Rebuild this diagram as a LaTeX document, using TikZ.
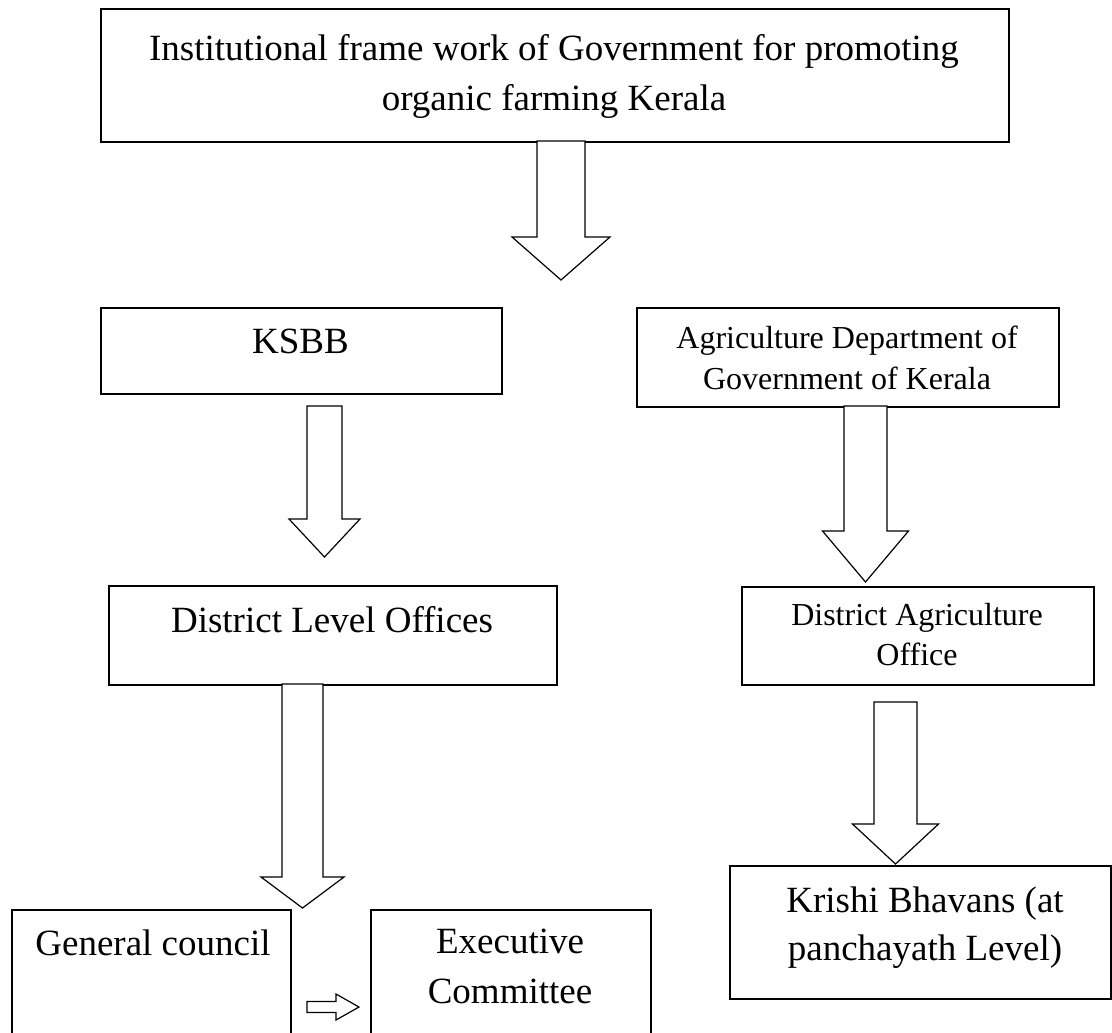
\documentclass[tikz,border=0pt]{standalone}
\usepackage{fontspec}
\setmainfont{Liberation Serif}
\begin{document}
\begin{tikzpicture}[x=0.75pt,y=-0.75pt,
  boxnode/.style={draw=black,line width=1.2pt,rectangle,inner sep=0pt,anchor=north west},
  bigtxt/.style={inner sep=0pt,anchor=base,font=\fontsize{27.75}{32}\selectfont},
  smalltxt/.style={inner sep=0pt,anchor=base,font=\fontsize{24}{28}\selectfont},
  blockarrow/.style={draw=black,line width=0.9pt,fill=white,line join=miter}]
\useasboundingbox (0,0) rectangle (1112,1032);
\newcommand\blockdown[6]{% cx, shaft half, ytop, ybase, head half, ytip
  \draw[blockarrow] ({#1-#2},#3) -- ({#1-#2},#4) -- ({#1-#5},#4) -- (#1,#6)
    -- ({#1+#5},#4) -- ({#1+#2},#4) -- ({#1+#2},#3) -- cycle;}
% boxes
\node[boxnode,minimum width=908*0.75pt,minimum height=133*0.75pt] (top) at (100,8) {};
\node[boxnode,minimum width=401*0.75pt,minimum height=86*0.75pt] (ksbb) at (100,307) {};
\node[boxnode,minimum width=448*0.75pt,minimum height=99*0.75pt] (dlo) at (108,585) {};
\node[boxnode,minimum width=422*0.75pt,minimum height=99*0.75pt] (agri) at (636,307) {};
\node[boxnode,minimum width=352*0.75pt,minimum height=98*0.75pt] (dao) at (741,586) {};
\node[boxnode,minimum width=381*0.75pt,minimum height=133*0.75pt] (krishi) at (729,865) {};
\node[boxnode,minimum width=279*0.75pt,minimum height=140*0.75pt] (gc) at (11,909) {};
\node[boxnode,minimum width=280*0.75pt,minimum height=140*0.75pt] (exec) at (370,909) {};
% texts
\node[bigtxt] (t1) at (554,60) {Institutional frame work of Government for promoting};
\node[bigtxt] (t2) at (554,110) {organic farming Kerala};
\node[bigtxt] (tk) at (300.5,353) {KSBB};
\node[bigtxt] (td) at (332,632) {District Level Offices};
\node[smalltxt] (ta1) at (847,348) {Agriculture Department of};
\node[smalltxt] (ta2) at (847,389) {Government of Kerala};
\node[smalltxt] (tdo1) at (917,625) {District Agriculture};
\node[smalltxt] (tdo2) at (917,665) {Office};
\node[bigtxt] (tkr1) at (925,912) {Krishi Bhavans (at};
\node[bigtxt] (tkr2) at (925,960) {panchayath Level)};
\node[bigtxt] (tg) at (153,955) {General council};
\node[bigtxt] (te1) at (510,953) {Executive};
\node[bigtxt] (te2) at (510,1003) {Committee};
% block arrows
\blockdown{561}{24}{141}{237}{49}{280}
\blockdown{324.5}{17.5}{406}{519}{35.5}{557}
\blockdown{302.5}{20.5}{684}{877}{41.5}{908}
\blockdown{865.5}{21.5}{406}{531}{43}{582}
\blockdown{895.5}{21.5}{702}{824}{43}{864}
\draw[blockarrow] (307,1001.5) -- (336,1001.5) -- (336,994) -- (359,1007)
  -- (336,1020) -- (336,1012.5) -- (307,1012.5) -- cycle;
\end{tikzpicture}
\end{document}
